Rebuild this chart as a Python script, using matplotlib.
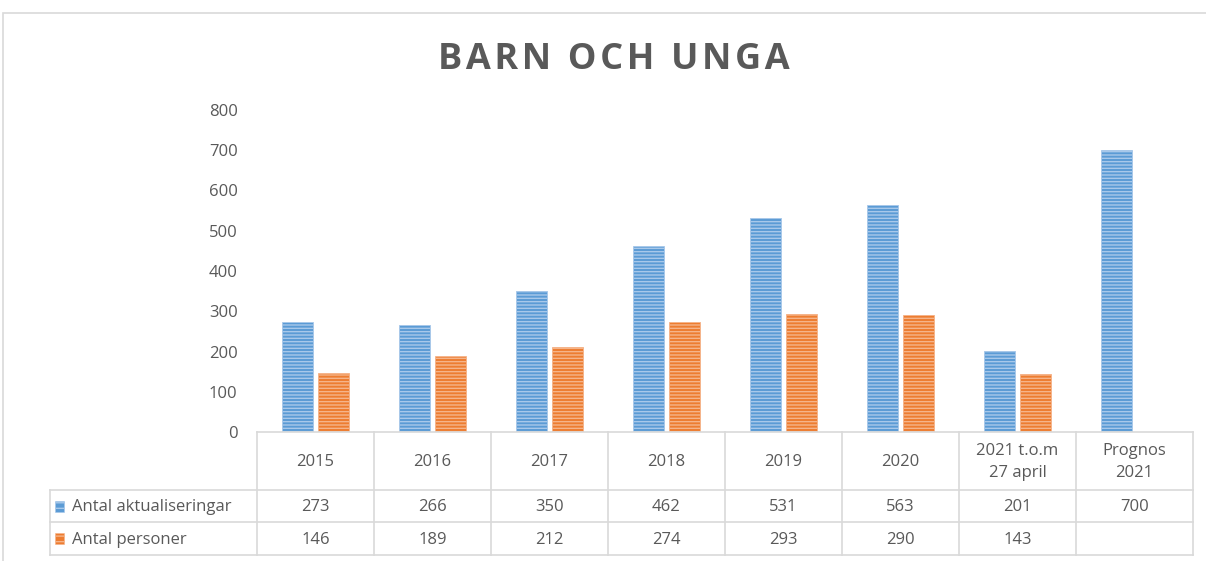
import matplotlib.pyplot as plt
from matplotlib.patches import Rectangle
import numpy as np

categories = ["2015", "2016", "2017", "2018", "2019", "2020", "2021 t.o.m\n27 april", "Prognos\n2021"]
aktualiseringar = [273, 266, 350, 462, 531, 563, 201, 700]
personer = [146, 189, 212, 274, 293, 290, 143, None]
series_names = ["Antal aktualiseringar", "Antal personer"]
colors = ["#5B9BD5", "#ED7D31"]
stripe = ["#A8C8EA", "#F5B48A"]
yticks = [0, 100, 200, 300, 400, 500, 600, 700, 800]

W, H = 1206, 561
plt.rcParams['font.family'] = ['Open Sans', 'DejaVu Sans']
plt.rcParams['hatch.linewidth'] = 1.0
txt = "#595959"
grid = "#D9D9D9"

fig = plt.figure(figsize=(W / 100, H / 100), dpi=100)

# outer chart frame
fig.patches.append(Rectangle((3 / W, -0.01), 1.1, (H - 13) / H + 0.01, transform=fig.transFigure,
                             fill=False, edgecolor=grid, lw=1.2))

px_l, px_r, px_top, px_bot = 257, 1193, 110, 432
ax = fig.add_axes([px_l / W, (H - px_bot) / H, (px_r - px_l) / W, (px_bot - px_top) / H])
x = np.arange(len(categories))
w = 0.26
gap = 0.025
vals1 = np.array(aktualiseringar, dtype=float)
vals2 = np.array([np.nan if v is None else v for v in personer])
ax.bar(x - w / 2 - gap, vals1, w, color=colors[0], edgecolor=stripe[0], hatch="-----", lw=0.6)
ax.bar(x + w / 2 + gap, vals2, w, color=colors[1], edgecolor=stripe[1], hatch="-----", lw=0.6)
ax.set_xlim(-0.5, len(categories) - 0.5)
ax.set_ylim(0, 800)
ax.set_yticks(yticks)
ax.set_yticklabels([str(t) for t in yticks], color=txt, fontsize=12)
ax.tick_params(axis='y', length=0, pad=14)
ax.set_xticks([])
for s in ax.spines.values():
    s.set_visible(False)

title = "\u200a \u200a".join("\u200a".join(word) for word in "BARN OCH UNGA".split())
fig.text(0.509, (H - 60) / H, title, ha="center", va="center",
         fontsize=26, fontweight="bold", color=txt)

# data table below the plot
tab_l, tab_b = 50, 555
tax = fig.add_axes([tab_l / W, (H - tab_b) / H, (px_r - tab_l) / W, (tab_b - px_bot) / H])
tax.set_xlim(tab_l, px_r)
tax.set_ylim(tab_b, px_bot)
tax.axis("off")
cw = (px_r - px_l) / len(categories)
rows = [px_bot, 490, 522, tab_b]
kw = dict(color=grid, lw=1.2, clip_on=False)
tax.plot([px_l, px_r], [rows[0], rows[0]], **kw)
for yy in rows[1:]:
    tax.plot([tab_l, px_r], [yy, yy], **kw)
tax.plot([tab_l, tab_l], [rows[1], rows[3]], **kw)
for i in range(len(categories) + 1):
    xx = px_l + i * cw
    tax.plot([xx, xx], [rows[0], rows[3]], **kw)

for i, c in enumerate(categories):
    cx = px_l + (i + 0.5) * cw
    tax.text(cx, (rows[0] + rows[1]) / 2 + 1, c, ha="center", va="center", color=txt,
             fontsize=12, linespacing=1.45)
    for r, vals in enumerate([aktualiseringar, personer]):
        v = vals[i]
        if v is not None:
            tax.text(cx, (rows[r + 1] + rows[r + 2]) / 2 + 1, str(v), ha="center", va="center",
                     color=txt, fontsize=12)

for r, name in enumerate(series_names):
    cy = (rows[r + 1] + rows[r + 2]) / 2
    tax.add_patch(Rectangle((55, cy - 5.5), 9, 11, facecolor=colors[r], edgecolor=stripe[r],
                            hatch="---", lw=0.4))
    tax.text(72, cy + 1, name, ha="left", va="center", color=txt, fontsize=12)

fig.savefig("out.png", dpi=100)
